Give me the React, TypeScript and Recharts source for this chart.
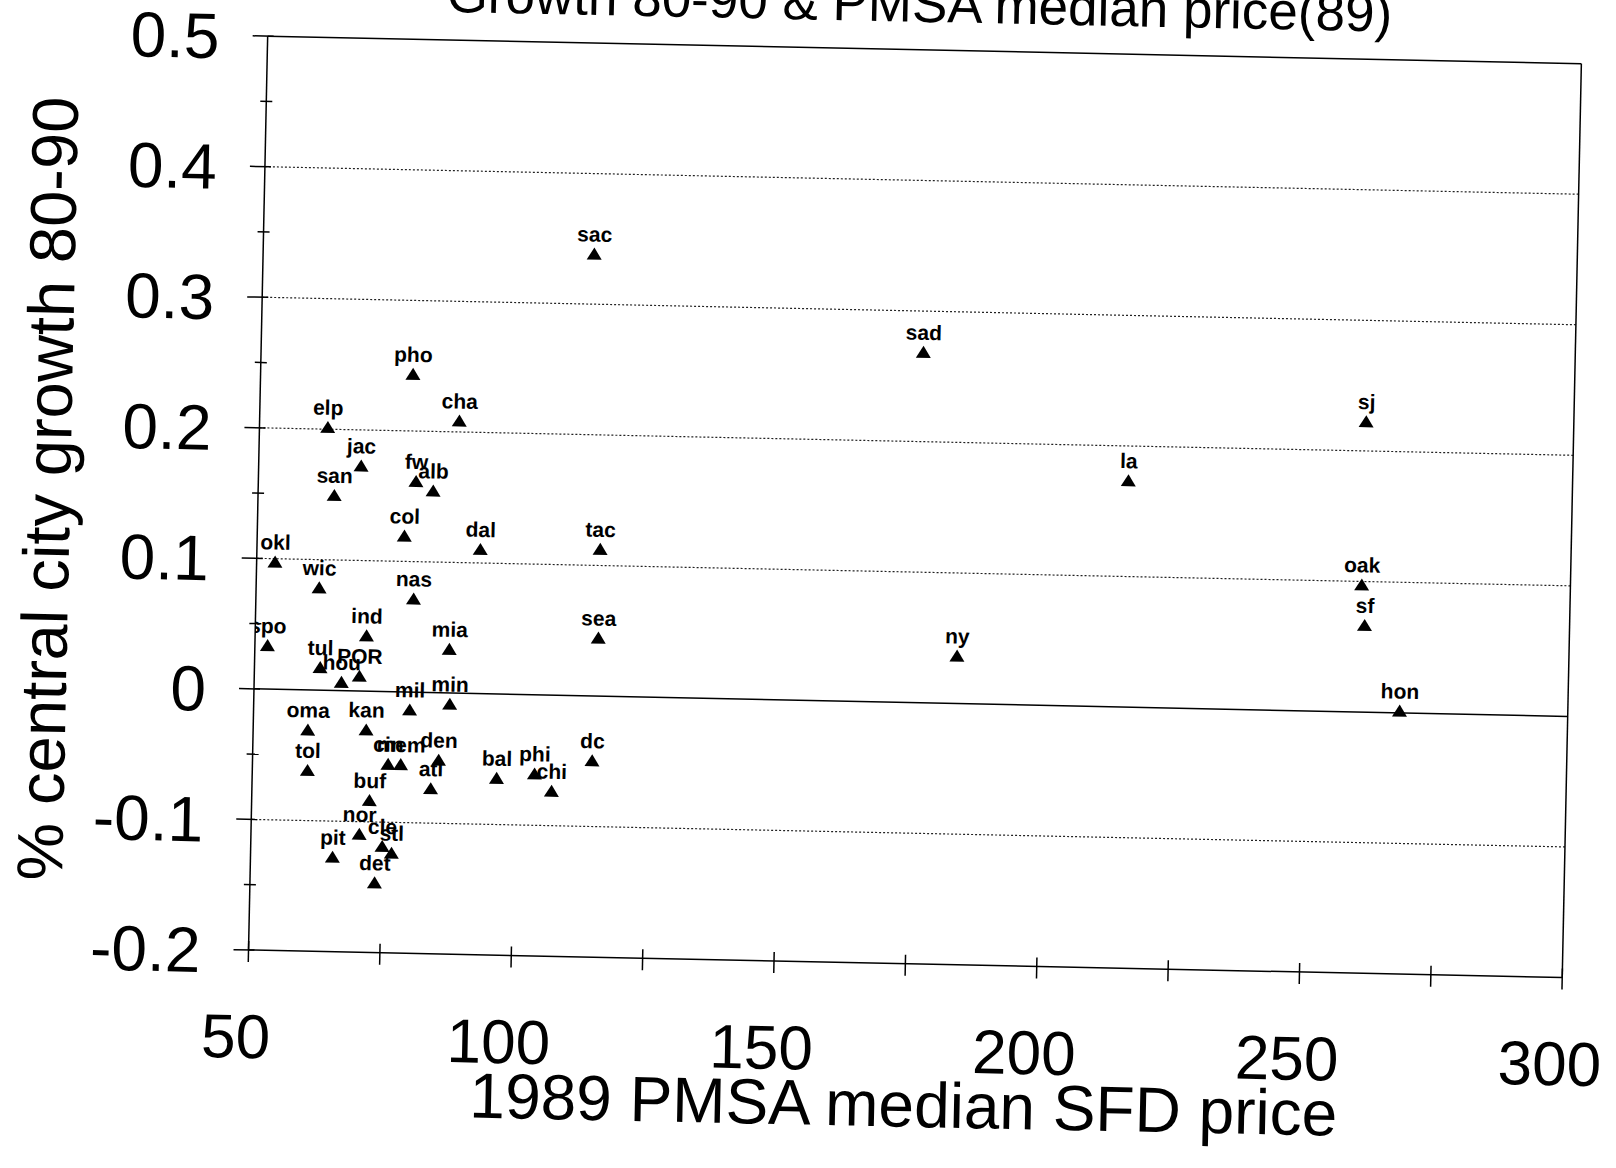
import React from "react";
import { ScatterChart, Scatter, XAxis, YAxis, ReferenceLine } from "recharts";

const cities = [
  "sac", "sad", "pho", "cha", "elp", "sj", "jac", "san", "fw", "alb", "la", "col",
  "dal", "tac", "okl", "wic", "nas", "oak", "ind", "spo", "mia", "sea", "sf", "ny",
  "tul", "hou", "POR", "mil", "min", "hon", "oma", "kan", "tol", "cin", "mem", "den",
  "atl", "bal", "phi", "chi", "dc", "buf", "nor", "cle", "stl", "pit", "det",
];
const price89 = [
  113, 176, 79, 88, 63, 260.5, 69.5, 64.5, 80, 83.3, 215.5, 78,
  92.5, 115.3, 53.5, 62, 80, 260.3, 71.2, 52.4, 87, 115.3, 261, 183.6,
  62.5, 66.6, 70, 79.7, 87.3, 268, 60.4, 71.5, 60.5, 75.8, 78.2, 85.4,
  84, 96.5, 103.7, 107, 114.6, 72.4, 70.6, 75, 76.8, 65.6, 73.7,
];
const growth8090 = [
  0.338, 0.268, 0.243, 0.208, 0.201, 0.222, 0.172, 0.149, 0.161, 0.154, 0.173, 0.119,
  0.11, 0.112, 0.097, 0.078, 0.071, 0.097, 0.042, 0.033, 0.033, 0.044, 0.066, 0.036,
  0.017, 0.006, 0.011, -0.014, -0.009, 0.001, -0.031, -0.03, -0.062, -0.056, -0.056, -0.052,
  -0.074, -0.065, -0.061, -0.074, -0.05, -0.084, -0.11, -0.119, -0.124, -0.128, -0.147,
];
const xTicks = [50, 75, 100, 125, 150, 175, 200, 225, 250, 275, 300];
const yTicks = [-0.2, -0.15, -0.1, -0.05, 0, 0.05, 0.1, 0.15, 0.2, 0.25, 0.3, 0.35, 0.4, 0.45, 0.5];
const dottedLines = [0.4, 0.3, 0.2, 0.1, -0.1];

const data = cities.map((name, i) => ({ name, price: price89[i], growth: growth8090[i] }));

const FONT = "'Liberation Sans', Arial, sans-serif";

const Triangle = (props: any) => {
  const { cx, cy, payload } = props;
  return (
    <g>
      <path d={`M${cx},${cy - 7} L${cx + 7.5},${cy + 5} L${cx - 7.5},${cy + 5} Z`} fill="#000" />
      <text x={cx} y={cy - 13} textAnchor="middle" fontSize={21} fontWeight="bold" fontFamily={FONT} fill="#000">
        {payload.name}
      </text>
    </g>
  );
};

const XTick = (props: any) => {
  const { x, y, payload } = props;
  const v = payload.value;
  return (
    <g>
      <line x1={x} y1={y - 9} x2={x} y2={y + 12} stroke="#000" strokeWidth={1.5} />
      {v % 50 === 0 && (
        <text x={x - 11} y={y + 108} textAnchor="middle" fontSize={62} fontFamily={FONT} fill="#000">
          {v}
        </text>
      )}
    </g>
  );
};

const YTick = (props: any) => {
  const { x, y, payload } = props;
  const v = payload.value;
  const major = Math.round(v * 100) % 10 === 0;
  return (
    <g>
      <line x1={major ? x - 15 : x - 6} y1={y} x2={x + 6} y2={y} stroke="#000" strokeWidth={1.5} />
      {major && (
        <text x={x - 48} y={y + 23} textAnchor="end" fontSize={64} fontFamily={FONT} fill="#000">
          {Math.round(v * 10) / 10}
        </text>
      )}
    </g>
  );
};

export default function App() {
  return (
    <div
      style={{
        position: "absolute",
        top: 0,
        left: 0,
        width: 1616,
        height: 1168,
        transform: "rotate(1.2deg)",
        transformOrigin: "254px 688px",
      }}
    >
      <ScatterChart width={1616} height={1168} margin={{ top: 36, right: 48, left: 0, bottom: 0 }} style={{ overflow: "visible" }}>
        <XAxis
          type="number"
          dataKey="price"
          domain={[50, 300]}
          ticks={xTicks}
          height={218}
          tickSize={0}
          tickMargin={0}
          tickLine={false}
          axisLine={{ stroke: "#000", strokeWidth: 1.5 }}
          tick={<XTick />}
          allowDataOverflow
        />
        <YAxis
          type="number"
          dataKey="growth"
          domain={[-0.2, 0.5]}
          ticks={yTicks}
          width={254}
          tickSize={0}
          tickMargin={0}
          tickLine={false}
          axisLine={{ stroke: "#000", strokeWidth: 1.5 }}
          tick={<YTick />}
          interval={0}
          allowDataOverflow
        />
        {dottedLines.map((v) => (
          <ReferenceLine key={v} y={v} stroke="#222" strokeWidth={1.2} strokeDasharray="2 2" />
        ))}
        <ReferenceLine y={0} stroke="#000" strokeWidth={1.5} />
        <ReferenceLine y={0.5} stroke="#000" strokeWidth={1.5} />
        <ReferenceLine x={300} stroke="#000" strokeWidth={1.5} />
        <Scatter data={data} shape={<Triangle />} isAnimationActive={false} />
      </ScatterChart>
      <svg
        width={1616}
        height={1168}
        style={{ position: "absolute", top: 0, left: 0, pointerEvents: "none", overflow: "visible" }}
      >
        <text x={905} y={8} textAnchor="middle" fontSize={53} fontFamily={FONT} fill="#000">
          Growth 80-90 &amp; PMSA median price(89)
        </text>
        <text x={912} y={1113} textAnchor="middle" fontSize={64} fontFamily={FONT} fill="#000">
          1989 PMSA median SFD price
        </text>
        <text
          x={66}
          y={493}
          textAnchor="middle"
          fontSize={65}
          fontFamily={FONT}
          fill="#000"
          transform="rotate(-90 66 493)"
        >
          % central city growth 80-90
        </text>
      </svg>
    </div>
  );
}
